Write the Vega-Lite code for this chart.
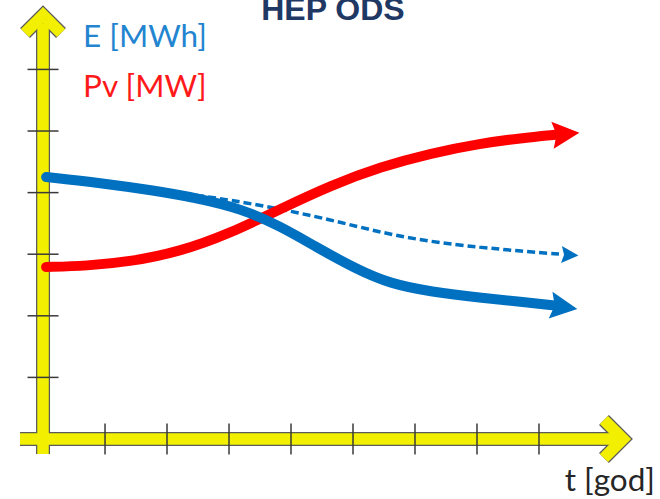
{
  "$schema": "https://vega.github.io/schema/vega-lite/v6.json",
  "width": 660,
  "height": 499,
  "autosize": {"type": "none"},
  "padding": 0,
  "background": "white",
  "config": {"view": {"stroke": null}},
  "datasets": {
    "axes": [
      {"seg": "vshaft", "o": 1, "t": 0, "v": -0.244},
      {"seg": "vshaft", "o": 2, "t": 0, "v": 6.75},
      {"seg": "vchev", "o": 1, "t": -0.29, "v": 6.591},
      {"seg": "vchev", "o": 2, "t": 0, "v": 6.883},
      {"seg": "vchev", "o": 3, "t": 0.29, "v": 6.591},
      {"seg": "hshaft", "o": 1, "t": -0.371, "v": 0},
      {"seg": "hshaft", "o": 2, "t": 9.3, "v": 0},
      {"seg": "hchev", "o": 1, "t": 9.048, "v": 0.308},
      {"seg": "hchev", "o": 2, "t": 9.355, "v": 0},
      {"seg": "hchev", "o": 3, "t": 9.048, "v": -0.308}
    ],
    "xticks": [{"t": 1}, {"t": 2}, {"t": 3}, {"t": 4}, {"t": 5}, {"t": 6}, {"t": 7}, {"t": 8}],
    "yticks": [{"v": 1}, {"v": 2}, {"v": 3}, {"v": 4}, {"v": 5}, {"v": 6}],
    "curves": [
      {"series": "E", "k": 1, "t": 0.05, "v": 4.253},
      {"series": "E", "k": 2, "t": 0.935, "v": 4.156},
      {"series": "E", "k": 3, "t": 1.75, "v": 4.04},
      {"series": "E", "k": 4, "t": 2.5, "v": 3.91},
      {"series": "E", "k": 5, "t": 3.194, "v": 3.74},
      {"series": "E", "k": 6, "t": 3.839, "v": 3.45},
      {"series": "E", "k": 7, "t": 4.4, "v": 3.12},
      {"series": "E", "k": 8, "t": 5.048, "v": 2.76},
      {"series": "E", "k": 9, "t": 5.6, "v": 2.52},
      {"series": "E", "k": 10, "t": 6.258, "v": 2.39},
      {"series": "E", "k": 11, "t": 7.065, "v": 2.29},
      {"series": "E", "k": 12, "t": 7.71, "v": 2.23},
      {"series": "E", "k": 13, "t": 8.274, "v": 2.165},
      {"series": "Pv", "k": 1, "t": 0.05, "v": 2.792},
      {"series": "Pv", "k": 2, "t": 0.7, "v": 2.81},
      {"series": "Pv", "k": 3, "t": 1.419, "v": 2.88},
      {"series": "Pv", "k": 4, "t": 2.2, "v": 3.04},
      {"series": "Pv", "k": 5, "t": 3.0, "v": 3.33},
      {"series": "Pv", "k": 6, "t": 3.839, "v": 3.74},
      {"series": "Pv", "k": 7, "t": 4.645, "v": 4.12},
      {"series": "Pv", "k": 8, "t": 5.452, "v": 4.42},
      {"series": "Pv", "k": 9, "t": 6.258, "v": 4.64},
      {"series": "Pv", "k": 10, "t": 7.065, "v": 4.80},
      {"series": "Pv", "k": 11, "t": 7.71, "v": 4.885},
      {"series": "Pv", "k": 12, "t": 8.274, "v": 4.94},
      {"series": "E2", "k": 1, "t": 0.935, "v": 4.156},
      {"series": "E2", "k": 2, "t": 1.75, "v": 4.05},
      {"series": "E2", "k": 3, "t": 2.5, "v": 3.96},
      {"series": "E2", "k": 4, "t": 3.565, "v": 3.79},
      {"series": "E2", "k": 5, "t": 4.645, "v": 3.56},
      {"series": "E2", "k": 6, "t": 5.452, "v": 3.35},
      {"series": "E2", "k": 7, "t": 6.258, "v": 3.2},
      {"series": "E2", "k": 8, "t": 7.065, "v": 3.11},
      {"series": "E2", "k": 9, "t": 7.71, "v": 3.05},
      {"series": "E2", "k": 10, "t": 8.355, "v": 3.0}
    ],
    "heads": [
      {"series": "E", "t": 8.403, "v": 2.143},
      {"series": "Pv", "t": 8.435, "v": 4.951},
      {"series": "E2", "t": 8.5, "v": 2.987}
    ]
  },
  "layer": [
    {
      "data": {"name": "axes"},
      "mark": {"type": "line", "color": "#5a5a5a", "strokeWidth": 14, "strokeCap": "butt", "strokeJoin": "miter"},
      "encoding": {
        "x": {"field": "t", "type": "quantitative", "scale": {"domain": [-0.694, 9.952], "nice": false, "zero": false}, "axis": null},
        "y": {"field": "v", "type": "quantitative", "scale": {"domain": [-0.974, 7.127], "nice": false, "zero": false}, "axis": null},
        "detail": {"field": "seg"}, "order": {"field": "o"}
      }
    },
    {
      "data": {"name": "axes"},
      "mark": {"type": "line", "color": "#F2F000", "strokeWidth": 11.5, "strokeCap": "butt", "strokeJoin": "miter"},
      "encoding": {
        "x": {"field": "t", "type": "quantitative", "scale": {"domain": [-0.694, 9.952], "nice": false, "zero": false}, "axis": null},
        "y": {"field": "v", "type": "quantitative", "scale": {"domain": [-0.974, 7.127], "nice": false, "zero": false}, "axis": null},
        "detail": {"field": "seg"}, "order": {"field": "o"}
      }
    },
    {
      "data": {"name": "xticks"},
      "mark": {"type": "rule", "color": "#3a3a3a", "strokeWidth": 1.5},
      "encoding": {
        "x": {"field": "t", "type": "quantitative", "scale": {"domain": [-0.694, 9.952], "nice": false, "zero": false}, "axis": null},
        "y": {"datum": -0.25, "type": "quantitative", "scale": {"domain": [-0.974, 7.127], "nice": false, "zero": false}, "axis": null},
        "y2": {"datum": 0.25}
      }
    },
    {
      "data": {"name": "yticks"},
      "mark": {"type": "rule", "color": "#3a3a3a", "strokeWidth": 1.5},
      "encoding": {
        "x": {"datum": -0.25, "type": "quantitative", "scale": {"domain": [-0.694, 9.952], "nice": false, "zero": false}, "axis": null},
        "x2": {"datum": 0.25},
        "y": {"field": "v", "type": "quantitative", "scale": {"domain": [-0.974, 7.127], "nice": false, "zero": false}, "axis": null}
      }
    },
    {
      "data": {"name": "curves"},
      "transform": [{"filter": "datum.series === 'E2'"}],
      "mark": {"type": "line", "color": "#0070C0", "strokeWidth": 3.5, "strokeDash": [8, 4], "strokeCap": "butt", "interpolate": "basis"},
      "encoding": {
        "x": {"field": "t", "type": "quantitative", "scale": {"domain": [-0.694, 9.952], "nice": false, "zero": false}, "axis": null},
        "y": {"field": "v", "type": "quantitative", "scale": {"domain": [-0.974, 7.127], "nice": false, "zero": false}, "axis": null},
        "order": {"field": "k"}
      }
    },
    {
      "data": {"name": "curves"},
      "transform": [{"filter": "datum.series === 'Pv'"}],
      "mark": {"type": "line", "color": "#FF0000", "strokeWidth": 10, "strokeCap": "round", "strokeJoin": "round", "interpolate": "basis"},
      "encoding": {
        "x": {"field": "t", "type": "quantitative", "scale": {"domain": [-0.694, 9.952], "nice": false, "zero": false}, "axis": null},
        "y": {"field": "v", "type": "quantitative", "scale": {"domain": [-0.974, 7.127], "nice": false, "zero": false}, "axis": null},
        "order": {"field": "k"}
      }
    },
    {
      "data": {"name": "curves"},
      "transform": [{"filter": "datum.series === 'E'"}],
      "mark": {"type": "line", "color": "#0070C0", "strokeWidth": 10, "strokeCap": "round", "strokeJoin": "round", "interpolate": "basis"},
      "encoding": {
        "x": {"field": "t", "type": "quantitative", "scale": {"domain": [-0.694, 9.952], "nice": false, "zero": false}, "axis": null},
        "y": {"field": "v", "type": "quantitative", "scale": {"domain": [-0.974, 7.127], "nice": false, "zero": false}, "axis": null},
        "order": {"field": "k"}
      }
    },
    {
      "data": {"name": "heads"},
      "transform": [{"filter": "datum.series === 'E'"}],
      "mark": {"type": "point", "filled": true, "opacity": 1, "color": "#0070C0", "shape": "M 1 0 L -1 -1 L -0.7 0 L -1 1 Z", "size": 729, "angle": 8},
      "encoding": {
        "x": {"field": "t", "type": "quantitative", "scale": {"domain": [-0.694, 9.952], "nice": false, "zero": false}, "axis": null},
        "y": {"field": "v", "type": "quantitative", "scale": {"domain": [-0.974, 7.127], "nice": false, "zero": false}, "axis": null}
      }
    },
    {
      "data": {"name": "heads"},
      "transform": [{"filter": "datum.series === 'Pv'"}],
      "mark": {"type": "point", "filled": true, "opacity": 1, "color": "#FF0000", "shape": "M 1 0 L -1 -1 L -0.7 0 L -1 1 Z", "size": 729, "angle": -5},
      "encoding": {
        "x": {"field": "t", "type": "quantitative", "scale": {"domain": [-0.694, 9.952], "nice": false, "zero": false}, "axis": null},
        "y": {"field": "v", "type": "quantitative", "scale": {"domain": [-0.974, 7.127], "nice": false, "zero": false}, "axis": null}
      }
    },
    {
      "data": {"name": "heads"},
      "transform": [{"filter": "datum.series === 'E2'"}],
      "mark": {"type": "point", "filled": true, "opacity": 1, "color": "#0070C0", "shape": "M 1 0 L -1 -1 L -0.7 0 L -1 1 Z", "size": 289, "angle": 3},
      "encoding": {
        "x": {"field": "t", "type": "quantitative", "scale": {"domain": [-0.694, 9.952], "nice": false, "zero": false}, "axis": null},
        "y": {"field": "v", "type": "quantitative", "scale": {"domain": [-0.974, 7.127], "nice": false, "zero": false}, "axis": null}
      }
    },
    {
      "data": {"values": [{}]},
      "mark": {"type": "text", "text": "HEP ODS", "font": "Liberation Sans", "fontWeight": "bold", "fontSize": 32, "color": "#1F3864", "align": "center", "baseline": "alphabetic"},
      "encoding": {
        "x": {"datum": 4.677, "type": "quantitative", "scale": {"domain": [-0.694, 9.952], "nice": false, "zero": false}, "axis": null},
        "y": {"datum": 6.802, "type": "quantitative", "scale": {"domain": [-0.974, 7.127], "nice": false, "zero": false}, "axis": null}
      }
    },
    {
      "data": {"values": [{}]},
      "mark": {"type": "text", "text": "E [MWh]", "font": "Lato", "fontSize": 31.5, "color": "#2385D0", "align": "left", "baseline": "alphabetic"},
      "encoding": {
        "x": {"datum": 0.645, "type": "quantitative", "scale": {"domain": [-0.694, 9.952], "nice": false, "zero": false}, "axis": null},
        "y": {"datum": 6.364, "type": "quantitative", "scale": {"domain": [-0.974, 7.127], "nice": false, "zero": false}, "axis": null}
      }
    },
    {
      "data": {"values": [{}]},
      "mark": {"type": "text", "text": "Pv [MW]", "font": "Lato", "fontSize": 31.5, "color": "#FF1A1A", "align": "left", "baseline": "alphabetic"},
      "encoding": {
        "x": {"datum": 0.645, "type": "quantitative", "scale": {"domain": [-0.694, 9.952], "nice": false, "zero": false}, "axis": null},
        "y": {"datum": 5.552, "type": "quantitative", "scale": {"domain": [-0.974, 7.127], "nice": false, "zero": false}, "axis": null}
      }
    },
    {
      "data": {"values": [{}]},
      "mark": {"type": "text", "text": "t [god]", "font": "Lato", "fontSize": 31.5, "color": "#262626", "align": "right", "baseline": "alphabetic"},
      "encoding": {
        "x": {"datum": 9.871, "type": "quantitative", "scale": {"domain": [-0.694, 9.952], "nice": false, "zero": false}, "axis": null},
        "y": {"datum": -0.844, "type": "quantitative", "scale": {"domain": [-0.974, 7.127], "nice": false, "zero": false}, "axis": null}
      }
    }
  ]
}
